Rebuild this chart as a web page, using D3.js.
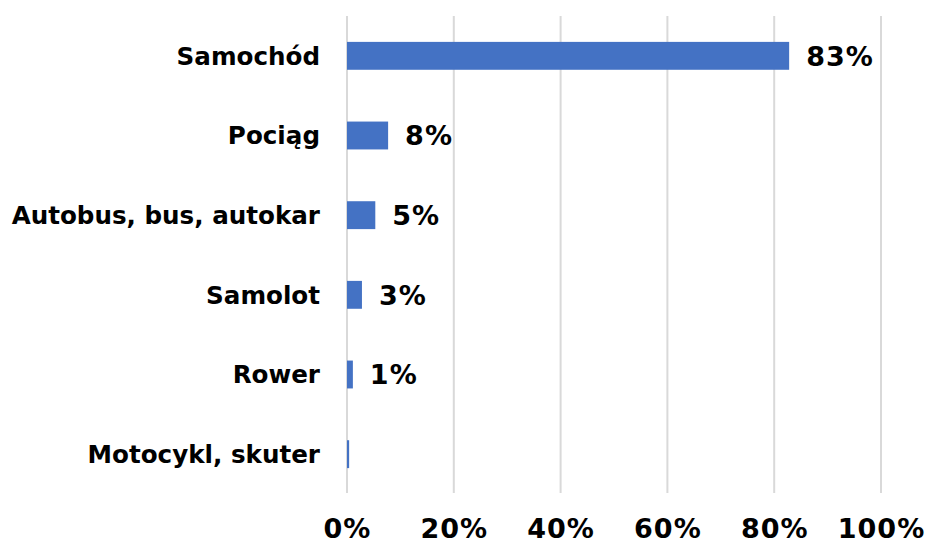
<!DOCTYPE html>
<html>
<head>
<meta charset="utf-8">
<script src="https://cdn.jsdelivr.net/npm/d3@7"></script>
<style>
  body { margin: 0; background: #fff; }
  text { font-family: "DejaVu Sans", Verdana, sans-serif; font-weight: bold; fill: #000; }
</style>
</head>
<body>
<div id="chart"></div>
<script>
// Categories and shares (percent), top to bottom
const categories = ["Samochód", "Pociąg", "Autobus, bus, autokar", "Samolot", "Rower", "Motocykl, skuter"]
const shares = [82.8, 7.7, 5.3, 2.8, 1.1, 0.4]
const valueLabels = ["83%", "8%", "5%", "3%", "1%", ""]
const xTicks = [0, 20, 40, 60, 80, 100]

const width = 927
const height = 543
const margin = {top: 16, right: 46, bottom: 50, left: 347}
const fontStack = "\"DejaVu Sans\", Verdana, sans-serif"

const svg = d3.select("#chart")
  .append("svg")
  .attr("width", width)
  .attr("height", height)

const xScale = d3.scaleLinear()
  .domain([0, 100])
  .range([margin.left, width - margin.right])

const yScale = d3.scaleBand()
  .domain(categories)
  .range([margin.top, height - margin.bottom + 1])
  .paddingInner(0.65)
  .paddingOuter(0.325)

// gridlines
svg.append("g")
  .selectAll("line")
  .data(xTicks)
  .join("line")
  .attr("x1", d => xScale(d))
  .attr("x2", d => xScale(d))
  .attr("y1", margin.top)
  .attr("y2", height - margin.bottom)
  .attr("stroke", "#d9d9d9")
  .attr("stroke-width", 2)

// x axis labels
const xAxis = d3.axisBottom(xScale)
  .tickValues(xTicks)
  .tickFormat(d => d + "%")
  .tickSize(0)
  .tickPadding(0)

svg.append("g")
  .attr("transform", "translate(0," + (height - margin.bottom) + ")")
  .call(xAxis)
  .call(g => g.select(".domain").remove())
  .selectAll("text")
  .attr("dy", null)
  .attr("y", 45)
  .style("font-size", "27px")
  .style("letter-spacing", "1px")
  .style("font-family", fontStack)

// category labels
const yAxis = d3.axisLeft(yScale).tickSize(0).tickPadding(0)
svg.append("g")
  .attr("transform", "translate(" + (margin.left - 27) + ",0)")
  .call(yAxis)
  .call(g => g.select(".domain").remove())
  .selectAll("text")
  .attr("dy", "0.36em")
  .style("font-size", "24.6px")
  .style("font-family", fontStack)

// bars
svg.append("g")
  .selectAll("rect")
  .data(shares)
  .join("rect")
  .attr("x", xScale(0))
  .attr("y", (d, i) => yScale(categories[i]))
  .attr("width", d => xScale(d) - xScale(0))
  .attr("height", yScale.bandwidth())
  .attr("fill", "#4472c4")

// value labels
svg.append("g")
  .selectAll("text")
  .data(shares)
  .join("text")
  .attr("x", d => xScale(d) + 17)
  .attr("y", (d, i) => yScale(categories[i]) + yScale.bandwidth() / 2)
  .attr("dy", "0.37em")
  .style("font-size", "27px")
  .style("letter-spacing", "1px")
  .text((d, i) => valueLabels[i])
</script>
</body>
</html>
